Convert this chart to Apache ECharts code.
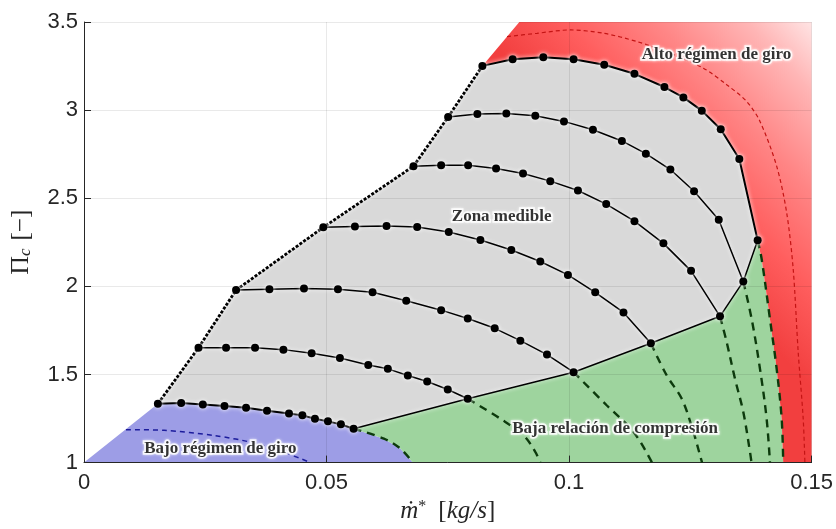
<!DOCTYPE html>
<html>
<head>
<meta charset="utf-8">
<script src="https://cdn.jsdelivr.net/npm/echarts@6/dist/echarts.min.js"></script>
<style>
  html, body { margin: 0; padding: 0; background: #fff; }
  #chart { width: 836px; height: 529px; }
</style>
</head>
<body>
<div id="chart"></div>
<script>
// Axis ranges and ticks
const xRange = [0, 0.15];
const yRange = [1, 3.5];
const xStep = 0.05;
const yStep = 0.5;

// Constant-speed lines, highest speed first: [mass flow kg/s, pressure ratio]
const speed1 = [[0.08213,3.251],[0.08837,3.289],[0.09469,3.300],[0.10093,3.289],[0.10725,3.257],[0.11348,3.206],[0.11966,3.131],[0.12357,3.072],[0.12736,2.997],[0.13127,2.891],[0.13510,2.723],[0.13888,2.261]];
const speed2 = [[0.07507,2.961],[0.08110,2.978],[0.08707,2.981],[0.09304,2.968],[0.09895,2.936],[0.10492,2.889],[0.11089,2.825],[0.11583,2.753],[0.12089,2.663],[0.12577,2.540],[0.13086,2.378],[0.13592,2.028]];
const speed3 = [[0.06793,2.682],[0.07363,2.687],[0.07919,2.687],[0.08495,2.669],[0.09051,2.640],[0.09613,2.597],[0.10183,2.544],[0.10766,2.467],[0.11348,2.370],[0.11945,2.244],[0.12515,2.088],[0.13112,1.830]];
const speed4 = [[0.04934,2.335],[0.05585,2.339],[0.06237,2.342],[0.06869,2.337],[0.07520,2.308],[0.08172,2.263],[0.08810,2.206],[0.09407,2.141],[0.09977,2.065],[0.10539,1.966],[0.11122,1.852],[0.11686,1.677]];
const speed5 = [[0.03135,1.979],[0.03823,1.984],[0.04535,1.988],[0.05235,1.984],[0.05949,1.966],[0.06643,1.918],[0.07363,1.865],[0.07911,1.818],[0.08467,1.762],[0.08996,1.692],[0.09545,1.613],[0.10093,1.513]];
const speed6 = [[0.02361,1.652],[0.02929,1.652],[0.03526,1.652],[0.04111,1.641],[0.04693,1.620],[0.05276,1.594],[0.05860,1.554],[0.06264,1.532],[0.06676,1.494],[0.07075,1.460],[0.07499,1.415],[0.07911,1.362]];
const speed7 = [[0.01523,1.334],[0.02003,1.338],[0.02450,1.330],[0.02896,1.321],[0.03341,1.311],[0.03773,1.294],[0.04226,1.279],[0.04502,1.268],[0.04761,1.249],[0.05029,1.234],[0.05296,1.217],[0.05558,1.192]];

// Extrapolated (unmeasured) continuation of each speed line down to Pi = 1
const ext1 = [[0.13888,2.261],[0.13971,2.154],[0.14142,1.814],[0.14280,1.532],[0.14383,1.249],[0.14415,1.0]];
const ext2 = [[0.13592,2.028],[0.13765,1.814],[0.13936,1.532],[0.14073,1.249],[0.14142,1.0]];
const ext3 = [[0.13112,1.830],[0.13250,1.683],[0.13421,1.475],[0.13592,1.287],[0.13730,1.061],[0.13761,1.0]];
const ext4 = [[0.11686,1.677],[0.12015,1.494],[0.12324,1.362],[0.12563,1.174],[0.12701,1.041],[0.12742,1.0]];
const ext5 = [[0.10093,1.513],[0.10780,1.324],[0.11330,1.174],[0.11710,1.0]];
const ext6 = [[0.07911,1.362],[0.08584,1.249],[0.09063,1.154],[0.09304,1.061],[0.09407,1.0]];
const ext7 = [[0.05558,1.192],[0.06182,1.136],[0.06525,1.079],[0.06780,1.0]];

// Upper end of the surge line extended to the top of the map
const surgeTop = [0.08975, 3.5];

// Reference curves inside the high- and low-speed zones
const highSpeedRef = [[0.08722,3.417],[0.09339,3.436],[0.10025,3.455],[0.10710,3.436],[0.11398,3.389],[0.12083,3.323],[0.12769,3.238],[0.13250,3.144],[0.13662,3.049],[0.13936,2.936],[0.14280,2.682],[0.14485,2.420],[0.14621,2.097],[0.14724,1.626],[0.14827,1.249],[0.14862,1.0]];
const lowSpeedRef = [[0.00865,1.187],[0.01653,1.183],[0.02682,1.154],[0.03576,1.107],[0.04193,1.051],[0.04673,1.0]];

// Zone names and where they sit
const zoneNames = ['Alto régimen de giro', 'Zona medible', 'Bajo régimen de giro', 'Baja relación de compresión'];
const zoneNameAt = [[0.1304,3.317],[0.0861,2.395],[0.0281,1.079],[0.1095,1.192]];

// ---- derived geometry ----
const speedLines = [speed1, speed2, speed3, speed4, speed5, speed6, speed7];
const first = a => a[0];
const last = a => a[a.length - 1];
const surge = speedLines.map(first).reverse();          // low -> high
const chokeEdge = speedLines.map(last).reverse();      // low -> high

const grayZone = [...surge, ...speed1.slice(1), ...chokeEdge.slice().reverse().slice(1), ...speed7.slice(1, -1).reverse()];
const blueZone = [[xRange[0], yRange[0]], ...speed7, ...ext7.slice(1)];
const greenZone = [...chokeEdge, ...ext1.slice(1), ...ext7.slice(1).reverse()];
const redZone = [speed1[0], surgeTop, [xRange[1], yRange[1]], [xRange[1], yRange[0]], ...ext1.slice().reverse(), ...speed1.slice(1, -1).reverse()];

const chart = echarts.init(document.getElementById('chart'));

function zone(points, fillFn) {
  return {
    type: 'custom',
    coordinateSystem: 'cartesian2d',
    silent: true,
    z: -1,
    data: [points[0]],
    renderItem: (params, api) => ({
      type: 'polygon',
      shape: { points: points.map(p => api.coord(p)) },
      style: { fill: fillFn(api), stroke: null }
    })
  };
}

const halo = { shadowColor: 'rgba(255,255,255,1)', shadowBlur: 4 };

function solidLine(data, width) {
  return {
    type: 'line', data, silent: true, z: 5,
    symbol: 'circle', symbolSize: 8, showSymbol: true,
    itemStyle: Object.assign({ color: '#000' }, halo),
    lineStyle: Object.assign({ color: '#000', width: width || 1.5 }, halo)
  };
}

function dashedLine(data, color, width, dash, smooth) {
  return {
    type: 'line', data, silent: true, z: 3,
    symbol: 'none', smooth: smooth,
    lineStyle: { color, width, type: dash, cap: 'butt' }
  };
}

const series = [
  zone(blueZone, () => '#9d9de6'),
  zone(greenZone, () => '#9ed49e'),
  zone(grayZone, () => '#d9d9d9'),
  zone(redZone, api => {
    // fade from saturated red near the measured zone towards white at the top-right corner
    const p0 = api.coord([0.1140, 2.493]);
    const p1 = api.coord([0.1547, 3.53]);
    return new echarts.graphic.LinearGradient(p0[0], p0[1], p1[0], p1[1], [
      { offset: 0, color: '#f23f3f' },
      { offset: 0.25, color: '#ff5e5e' },
      { offset: 0.5, color: '#ff8686' },
      { offset: 0.75, color: '#ffb6b6' },
      { offset: 1, color: '#fff8f8' }
    ], true);
  }),
  dashedLine(highSpeedRef, '#c41414', 1.2, [4, 3], 0.3),
  dashedLine(lowSpeedRef, '#1c1c9c', 1.5, [5, 4], 0.3),
  ...[ext1, ext2, ext3, ext4, ext5, ext6, ext7].map(e => dashedLine(e, '#0c3a0c', 2.4, [8, 6], 0.35)),
  // choke-side edge of the measurable zone
  {
    type: 'line', data: chokeEdge, silent: true, z: 4, symbol: 'none',
    lineStyle: Object.assign({ color: '#000', width: 1.5 }, halo)
  },
  // surge line
  {
    type: 'line', data: surge, silent: true, z: 4, symbol: 'none',
    lineStyle: Object.assign({ color: '#000', width: 2.8, type: [3, 1.6] }, halo)
  },
  ...speedLines.map((l, i) => solidLine(l, (i === 0 || i === 6) ? 2 : 1.5)),
  {
    type: 'scatter', silent: true, z: 10, symbolSize: 0,
    data: zoneNames.map((t, i) => ({ value: zoneNameAt[i], name: t })),
    label: {
      show: true, position: 'inside', formatter: p => p.name,
      fontFamily: 'Liberation Serif', fontWeight: 'bold', fontSize: 17,
      color: '#000', textBorderColor: '#fff', textBorderWidth: 3.5,
      textShadowColor: 'rgba(255,255,255,0.9)', textShadowBlur: 3
    }
  }
];

const axisColor = '#262626';
chart.setOption({
  animation: false,
  backgroundColor: '#fff',
  grid: { left: 83, right: 24, top: 22, bottom: 65, containLabel: false },
  xAxis: {
    type: 'value', min: xRange[0], max: xRange[1], interval: xStep,
    name: '{m|ṁ}{s|*}{sp|}{b|[}{i|kg/s}{b|]}',
    nameLocation: 'middle', nameGap: 34,
    nameTextStyle: {
      rich: {
        m: { fontFamily: 'Liberation Serif', fontStyle: 'italic', fontSize: 25, color: axisColor },
        s: { fontFamily: 'Liberation Serif', fontSize: 16, color: axisColor, verticalAlign: 'top', padding: [0, 0, 10, 0] },
        sp: { width: 12 },
        b: { fontFamily: 'Liberation Serif', fontSize: 25, color: axisColor },
        i: { fontFamily: 'Liberation Serif', fontStyle: 'italic', fontSize: 25, color: axisColor }
      }
    },
    axisLine: { show: true, onZero: false, lineStyle: { color: axisColor, width: 1 } },
    axisTick: { show: true, inside: true, length: 7, lineStyle: { color: axisColor } },
    axisLabel: { fontFamily: 'Liberation Sans', fontSize: 22, color: axisColor, margin: 9 },
    splitLine: { show: true, lineStyle: { color: 'rgba(0,0,0,0.085)', width: 1 } }
  },
  yAxis: {
    type: 'value', min: yRange[0], max: yRange[1], interval: yStep,
    name: '{p|Π}{c|c}{sp|}{b|[−]}',
    nameLocation: 'middle', nameGap: 50, nameRotate: 90,
    nameTextStyle: {
      rich: {
        p: { fontFamily: 'Liberation Serif', fontSize: 26, color: axisColor },
        c: { fontFamily: 'Liberation Serif', fontStyle: 'italic', fontSize: 17, color: axisColor, verticalAlign: 'bottom' },
        sp: { width: 8 },
        b: { fontFamily: 'Liberation Serif', fontSize: 25, color: axisColor }
      }
    },
    axisLine: { show: true, onZero: false, lineStyle: { color: axisColor, width: 1 } },
    axisTick: { show: true, inside: true, length: 7, lineStyle: { color: axisColor } },
    axisLabel: { fontFamily: 'Liberation Sans', fontSize: 22, color: axisColor, margin: 6 },
    splitLine: { show: true, lineStyle: { color: 'rgba(0,0,0,0.085)', width: 1 } }
  },
  series
});
</script>
</body>
</html>
